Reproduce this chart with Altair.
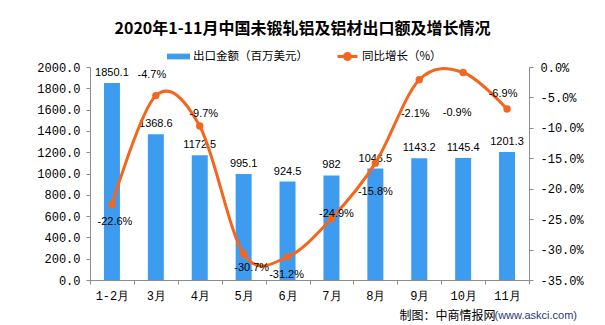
import altair as alt
import pandas as pd

# ---- data ----
months = ["1-2月", "3月", "4月", "5月", "6月", "7月", "8月", "9月", "10月", "11月"]
export_value = [1850.1, 1368.6, 1172.5, 995.1, 924.5, 982, 1046.5, 1143.2, 1145.4, 1201.3]
yoy_growth = [-22.6, -4.7, -9.7, -30.7, -31.2, -24.9, -15.8, -2.1, -0.9, -6.9]
left_ticks = [0, 200, 400, 600, 800, 1000, 1200, 1400, 1600, 1800, 2000]
right_ticks = [0, -5, -10, -15, -20, -25, -30, -35]

BAR_NAME = "出口金额（百万美元）"
LINE_NAME = "同比增长（%）"
TITLE = "2020年1-11月中国未锻轧铝及铝材出口额及增长情况"
SOURCE = "制图：中商情报网"
SOURCE_URL = "(www.askci.com)"

# ---- styling ----
BLUE = "#3E9CF0"
ORANGE = "#F3661F"
AXIS_GREY = "#8C8C8C"
CJK = "Noto Sans CJK SC"
MONO = "Liberation Mono"
SANS = "Liberation Sans"

# label offsets (dx, dy) of the growth labels relative to their points
label_offsets = {
    "1-2月": (3, 17), "3月": (-4, -21), "4月": (4, -12), "5月": (8, 14),
    "6月": (-1, 18), "7月": (5, -5), "8月": (0, 29), "9月": (-4, 34),
    "10月": (-6, 41), "11月": (-4, -15),
}

df = pd.DataFrame({
    "month": months,
    "value": export_value,
    "growth": yoy_growth,
})
df["value_label"] = [f"{v:g}" for v in export_value]
df["growth_label"] = [f"{v:.1f}%" for v in yoy_growth]
df["bar_series"] = BAR_NAME
df["line_series"] = LINE_NAME

x_enc = alt.X(
    "month:N",
    sort=months,
    scale=alt.Scale(paddingInner=0, paddingOuter=0),
    axis=alt.Axis(
        title=SOURCE,
        titleX=309, titleY=35, titleAlign="left", titleBaseline="middle",
        titleFont=CJK, titleFontSize=12, titleFontWeight="normal", titleColor="#000000",
        labelAngle=0, labelFont=MONO, labelFontSize=12, labelColor="#000000",
        labelPadding=6, tickBand="extent", tickSize=4,
        domainColor=AXIS_GREY, tickColor=AXIS_GREY, grid=False,
    ),
)

y_left = alt.Y(
    "value:Q",
    scale=alt.Scale(domain=[0, 2000], nice=False, zero=True),
    axis=alt.Axis(
        title=None, values=left_ticks, format=".1f", orient="left",
        labelFont=MONO, labelFontSize=12, labelColor="#000000", labelPadding=6,
        tickSize=4, domainColor=AXIS_GREY, tickColor=AXIS_GREY, grid=False,
    ),
)

y_right = alt.Y(
    "growth:Q",
    scale=alt.Scale(domain=[-35, 0], nice=False, zero=False),
    axis=alt.Axis(
        title=SOURCE_URL, titleAngle=0, titleX=-35, titleY=248,
        titleAlign="left", titleBaseline="middle",
        titleFont=SANS, titleFontSize=11, titleFontWeight="normal", titleColor="#1F3A7A",
        values=right_ticks, orient="right",
        labelExpr="replace(format(datum.value, '.1f'), '\u2212', '-') + '%'",
        labelFont=MONO, labelFontSize=12, labelColor="#000000", labelPadding=7,
        tickSize=4, domainColor=AXIS_GREY, tickColor=AXIS_GREY, grid=False,
    ),
)

base = alt.Chart(df)

bars = base.mark_bar(size=16).encode(
    x=x_enc,
    y=y_left,
    fill=alt.Fill(
        "bar_series:N",
        scale=alt.Scale(domain=[BAR_NAME], range=[BLUE]),
        legend=alt.Legend(
            title=None, orient="none", legendX=77, legendY=-22,
            symbolType="M-1,-0.25H1V0.25H-1Z", symbolSize=529,
            symbolStrokeWidth=0, labelFont=CJK, labelFontSize=11.5,
            labelColor="#000000", labelOffset=3,
        ),
    ),
)

bar_text = base.mark_text(dy=-10, baseline="middle", font=SANS, fontSize=11, color="#000000").encode(
    x=x_enc,
    y=y_left,
    text="value_label:N",
)

left = alt.layer(bars, bar_text)

line = base.mark_line(interpolate="cardinal", strokeWidth=3).encode(
    x=x_enc,
    y=y_right,
    stroke=alt.Stroke(
        "line_series:N",
        scale=alt.Scale(domain=[LINE_NAME], range=[ORANGE]),
        legend=alt.Legend(
            title=None, orient="none", legendX=246, legendY=-22,
            symbolType="M-1,0H1M0.3,0A0.3,0.3,0,1,1,-0.3,0A0.3,0.3,0,1,1,0.3,0",
            symbolSize=400, symbolStrokeWidth=3, symbolFillColor=ORANGE,
            labelFont=CJK, labelFontSize=11.5, labelColor="#000000", labelOffset=3,
        ),
    ),
)

points = base.mark_point(filled=True, size=55, color=ORANGE, opacity=1).encode(
    x=x_enc,
    y=y_right,
)

label_layers = []
for m, (dx, dy) in label_offsets.items():
    label_layers.append(
        base.mark_text(dx=dx, dy=dy, baseline="middle", font=SANS, fontSize=11, color="#000000")
        .encode(x=x_enc, y=y_right, text="growth_label:N")
        .transform_filter(alt.FieldEqualPredicate(field="month", equal=m))
    )

right = alt.layer(line, points, *label_layers)

chart = (
    alt.layer(left, right)
    .resolve_scale(y="independent", fill="independent", stroke="independent")
    .properties(
        width=439,
        height=213,
        autosize=alt.AutoSizeParams(type="none"),
        padding={"left": 90, "top": 67, "right": 76, "bottom": 45},
        background="#FFFFFF",
        title=alt.TitleParams(
            TITLE, font=CJK, fontSize=16, fontWeight="bold", color="#000000",
            anchor="middle", offset=8, dx=-7,
        ),
    )
    .configure_view(strokeWidth=0)
)

chart.save("out.html", embed_options={"renderer": "svg", "actions": False})
